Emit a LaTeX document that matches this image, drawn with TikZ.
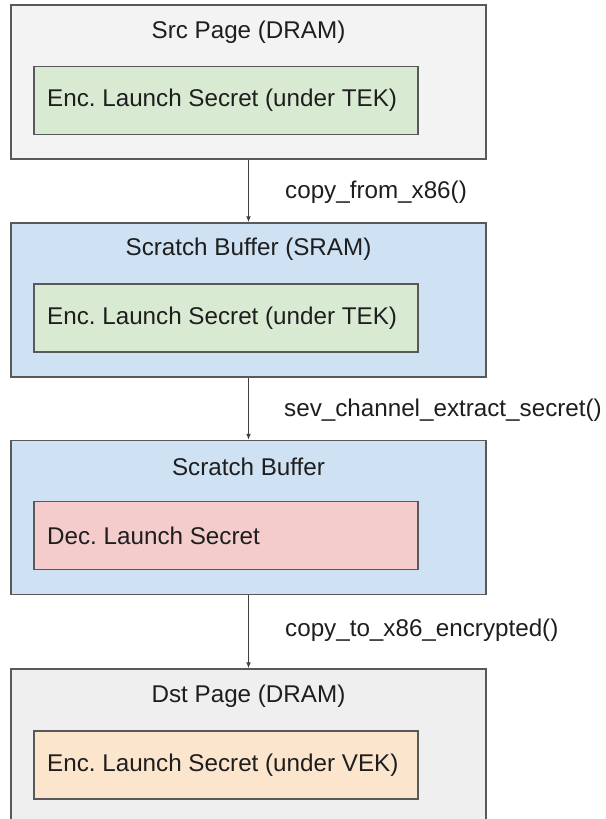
\documentclass[tikz,border=0pt]{standalone}
\usepackage{fontspec}
\setmainfont{Liberation Sans}
\usetikzlibrary{arrows.meta}
\definecolor{srcgray}{HTML}{F3F3F3}
\definecolor{dstgray}{HTML}{EFEFEF}
\definecolor{bluefill}{HTML}{CFE2F3}
\definecolor{greenfill}{HTML}{D9EAD3}
\definecolor{redfill}{HTML}{F4CCCC}
\definecolor{orangefill}{HTML}{FCE5CD}
\definecolor{edge}{HTML}{595959}
\definecolor{arrowcol}{HTML}{404040}
\definecolor{txt}{HTML}{1E1E1E}
\tikzset{
  outerbox/.style={draw=edge, line width=1.5bp, minimum width=475bp, minimum height=154bp, inner sep=0pt},
  innerbox/.style={draw=edge, line width=1.5bp, minimum width=384bp, minimum height=68bp, inner sep=0pt, anchor=west},
  boxtext/.style={font=\fontsize{24.3pt}{29pt}\selectfont\frenchspacing, text=txt, inner sep=0pt},
  conn/.style={draw=arrowcol, line width=1.2bp, -{Latex[length=6bp,width=5bp]}},
}
\begin{document}
\begin{tikzpicture}[x=1bp,y=-1bp]
\useasboundingbox (0,0) rectangle (606,819);
% outer boxes
\node[outerbox, fill=srcgray] (src) at (248.5,82) {};
\node[outerbox, fill=bluefill] (sram) at (248.5,300) {};
\node[outerbox, fill=bluefill] (scr) at (248.5,517.5) {};
\node[outerbox, fill=dstgray] (dst) at (248.5,746) {};
% titles
\node[boxtext] (srct) at (248.5,32) {Src Page (DRAM)};
\node[boxtext] (sramt) at (248.5,249) {Scratch Buffer (SRAM)};
\node[boxtext] (scrt) at (248.5,467) {Scratch Buffer};
\node[boxtext] (dstt) at (248.5,696) {Dst Page (DRAM)};
% inner boxes
\node[innerbox, fill=greenfill] (srci) at (33,100.5) {};
\node[innerbox, fill=greenfill] (srami) at (33,318) {};
\node[innerbox, fill=redfill] (scri) at (33,535.5) {};
\node[innerbox, fill=orangefill] (dsti) at (33,765) {};
\node[boxtext, anchor=west] (srcit) at (47,100.5) {Enc. Launch Secret (under TEK)};
\node[boxtext, anchor=west] (sramit) at (47,318) {Enc. Launch Secret (under TEK)};
\node[boxtext, anchor=west] (scrit) at (47,535.5) {Dec. Launch Secret};
\node[boxtext, anchor=west] (dstit) at (47,765) {Enc. Launch Secret (under VEK)};
% connectors
\draw[conn] (src.south) -- (sram.north);
\draw[conn] (sram.south) -- (scr.north);
\draw[conn] (scr.south) -- (dst.north);
% labels
\node[boxtext, anchor=west] (l1) at (285,192) {copy\_from\_x86()};
\node[boxtext, anchor=west] (l2) at (284,410) {sev\_channel\_extract\_secret()};
\node[boxtext, anchor=west] (l3) at (285,630) {copy\_to\_x86\_encrypted()};
\end{tikzpicture}
\end{document}
